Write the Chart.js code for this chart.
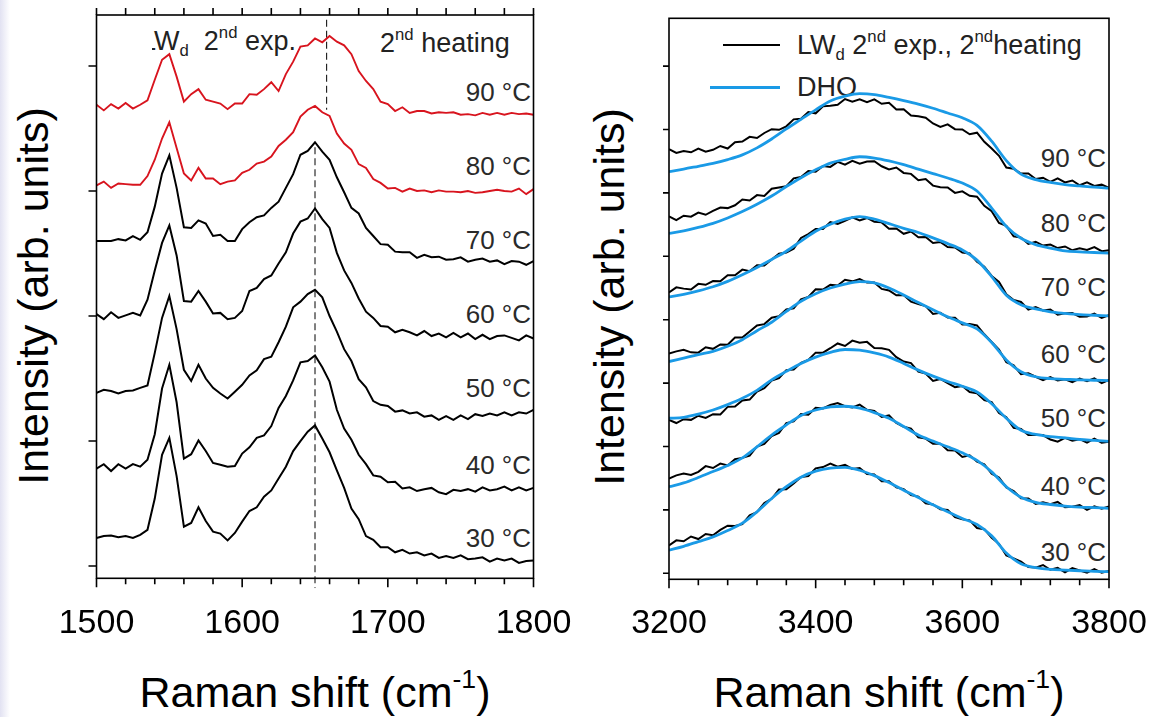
<!DOCTYPE html>
<html>
<head>
<meta charset="utf-8">
<script src="https://cdn.jsdelivr.net/npm/chart.js@4.4.0/dist/chart.umd.min.js"></script>
<style>
  html, body { margin: 0; padding: 0; background: #fff; }
  body { width: 1149px; height: 717px; position: relative; overflow: hidden;
         font-family: "Liberation Sans", Arial, sans-serif; color: #000; }
  .t { position: absolute; white-space: nowrap; line-height: 1; z-index: 0; }
  .lbl { font-size: 26px; color: #2a2a2a; transform: translateX(-100%); }
  sup { font-size: 0.62em; vertical-align: 0.72em; line-height: 0; }
  sub { font-size: 0.62em; vertical-align: -0.35em; line-height: 0; }
  canvas { position: absolute; top: 0; z-index: 2; }
  #left { left: 0; }
  #right { left: 575px; }
  .mask { position: absolute; background: #fff; z-index: 1; }
  .key { position: absolute; z-index: 1; }
  .edge { position: absolute; left: 0; top: 0; width: 10px; height: 717px;
          background: linear-gradient(to right, #e2e2f2, #fff); }
</style>
</head>
<body>
<div class="edge"></div>

<!-- left panel texts -->
<div class="t" style="left:33px;top:296px;font-size:43px;transform:translate(-50%,-50%) rotate(-90deg);">Intensity (arb. units)</div>
<div class="t" style="left:315px;top:671px;font-size:43px;transform:translateX(-50%);">Raman shift (cm<sup>-1</sup>)</div>
<div class="t" style="left:141px;top:28px;font-size:27px;color:#222;">LW<sub>d</sub>&nbsp; 2<sup>nd</sup> exp.</div>
<div class="mask" style="left:103px;top:20px;width:48.5px;height:40px;"></div>
<div class="t" style="left:380px;top:30px;font-size:27px;color:#222;">2<sup>nd</sup> heating</div>
<div class="t lbl" style="left:531px;top:79px;">90 °C</div>
<div class="t lbl" style="left:531px;top:153px;">80 °C</div>
<div class="t lbl" style="left:531px;top:227px;">70 °C</div>
<div class="t lbl" style="left:531px;top:301px;">60 °C</div>
<div class="t lbl" style="left:531px;top:375px;">50 °C</div>
<div class="t lbl" style="left:531px;top:452px;">40 °C</div>
<div class="t lbl" style="left:531px;top:525px;">30 °C</div>

<!-- right panel texts -->
<div class="t" style="left:609px;top:297px;font-size:43px;transform:translate(-50%,-50%) rotate(-90deg);">Intensity (arb. units)</div>
<div class="t" style="left:889px;top:671px;font-size:43px;transform:translateX(-50%);">Raman shift (cm<sup>-1</sup>)</div>
<div class="key" style="left:723px;top:44px;width:57px;height:2px;background:#000;"></div>
<div class="t" style="left:797px;top:32px;font-size:27px;color:#222;">LW<sub>d</sub> 2<sup>nd</sup> exp., 2<sup>nd</sup>heating</div>
<div class="key" style="left:710px;top:85.5px;width:70px;height:3px;background:#1a9ae6;"></div>
<div class="t" style="left:797px;top:74px;font-size:27px;color:#222;">DHO</div>
<div class="t lbl" style="left:1106px;top:145px;">90 °C</div>
<div class="t lbl" style="left:1106px;top:210px;">80 °C</div>
<div class="t lbl" style="left:1106px;top:274px;">70 °C</div>
<div class="t lbl" style="left:1106px;top:341px;">60 °C</div>
<div class="t lbl" style="left:1106px;top:405px;">50 °C</div>
<div class="t lbl" style="left:1106px;top:473px;">40 °C</div>
<div class="t lbl" style="left:1106px;top:539px;">30 °C</div>

<canvas id="left" width="575" height="717"></canvas>
<canvas id="right" width="574" height="717"></canvas>

<script>
// Raman shift grid of the 1500-1800 window (cm-1)
const leftShift = [1500,1505,1510,1515,1520,1525,1530,1535,1540,1545,1550,1555,1560,1565,1570,1575,1580,1585,1590,1595,
  1600,1605,1610,1615,1620,1625,1630,1635,1640,1645,1650,1655,1660,1665,1670,1675,1680,1685,1690,1695,
  1700,1705,1710,1715,1720,1725,1730,1735,1740,1745,1750,1755,1760,1765,1770,1775,1780,1785,1790,1795,1800];

// stacked spectra (arb. units, offsets included)
const left30 = [22.5,24,24.5,23,24,22.5,25,29,54,89,102.5,72,31.5,34.5,47,36,27.5,26,20.5,26.5,35.5,44,47,55.5,60.5,70,79.5,92,100,107.5,
  112.5,102,91,76.5,62.5,46,37.5,24,21,15,15,11,13,10,11,8.5,10,6.5,8,6.5,8.5,5.5,6,7,3.5,6,4.5,6,2.5,4,4.5];
const left40 = [78,81.5,76,81.5,78,81.5,79.5,85,105.5,142,161,131,86,89.5,100.5,92,82.5,81,79.5,80,90,95,102.5,104.5,112,126.5,136,148.5,163,164,
  168.5,159,147.5,125,110,101,89,81.5,72.5,71.5,67,67.5,62,63,60,61.5,62.5,59,57.5,61,60,61.5,59.5,63,60.5,61.5,63.5,60.5,63,60.5,62.5];
const left50 = [138.5,141,140,138,140,140.5,142.5,144.5,170.5,198.5,216,189.5,157,148,161,150,142.5,138,134,139.5,145,152.5,156.5,165.5,167.5,179,191.5,207,211.5,217.5,
  221,215,200,187.5,173.5,164,149.5,143,132,129,128,123.5,124.5,122,123,119.5,120.5,117,120,117,120.5,117.5,121.5,120,122,120.5,123,120.5,123,122,125];
const left60 = [201.5,197.5,203,198.5,200.5,202.5,200.5,213,236.5,258.5,272.5,248.5,212,211.5,220,211.5,202,202.5,197.5,198.5,204,220,222.5,229.5,232.5,242,251,266,275.5,278,
  286,277.5,270.5,250.5,236.5,226.5,214,203.5,198.5,192,191.5,187,189,187,184.5,188,184,186,183,186.5,183,186,181.5,185,181.5,184,184.5,182.5,180.5,184.5,182];
const left70 = [260,260,260,261.5,260.5,264,261,267,287.5,314,328.5,302.5,271,270.5,276.5,274,264,265,260,260,269.5,275,279,280.5,286.5,291.5,302.5,313.5,329,332,
  339,331.5,325,311,299,286.5,282,270.5,264,257.5,257,251.5,251,251,246.5,249,247,247.5,245,245.5,247,243.5,245,246,243.5,244.5,241.5,244,243.5,241,244];
const left80 = [304.5,307.5,302.5,306,305.5,305,305,312,325,342,355,334.5,314,308.5,318.5,310,310,305.5,307.5,308.5,314.5,317,322,323.5,327.5,336,341,347,359.5,365,
  368,363,360,346,338,333,321.5,318.5,309.5,306.5,302,302.5,299.5,302,300,300.5,299,300.5,299.5,299.5,299,300,298.5,299,300,301,300,299.5,302,297.5,301.5];
const left90 = [369,364.5,369.5,366,370.5,366,369,372.5,389,405,409.5,391.5,371.5,377.5,381.5,373,371.5,370,365.5,370,370,377.5,377,381.5,387,380,393.5,403.5,415.5,416.5,
  422,419,424,419.5,416.5,409.5,396,388,381.5,371.5,369.5,364,367,362.5,364,364,362,363,362.5,363,361,361.5,360.5,362.5,361,362.5,361,362.5,361.5,362,361];

// dashed guides: shift, upper end, lower end
const dashShift = [1658, 1650];
const dashFrom = [437, 335];
const dashTo = [365, -17.6];

// Raman shift grid of the 3200-3800 window
const rightShift = [3200,3210,3220,3230,3240,3250,3260,3270,3280,3290,3300,3310,3320,3330,3340,3350,3360,3370,3380,3390,
  3400,3410,3420,3430,3440,3450,3460,3470,3480,3490,3500,3510,3520,3530,3540,3550,3560,3570,3580,3590,
  3600,3610,3620,3630,3640,3650,3660,3670,3680,3690,3700,3710,3720,3730,3740,3750,3760,3770,3780,3790,3800];
const lw30 = [44,52,50.5,58,54,62,60,68.5,75,74.5,77.5,91.5,96.5,111,117.5,132,132.5,141.5,152,153.5,165.5,167.5,173,168,171,164.5,166,156.5,156,145,
  145,135.5,132.5,123.5,121,110.5,108.5,101,100,88.5,85,83.5,71.5,69.5,56,46.5,28,23.5,18.5,10,9,13,5.5,8.5,1.5,8,4.5,1,6.5,1,3.5];
const lw40 = [149.5,154.5,157.5,155,160,169,166,173,170,180,182,185.5,200,204,216.5,221.5,237,239.5,251,250,261,260,265.5,268.5,263.5,261.5,266,258,256,246.5,
  249,237,231,228,214.5,212.5,204.5,204.5,194,193.5,183.5,186,176,172,157,151,135.5,129.5,118.5,118,109.5,112,109,112.5,104,105,107.5,100,105.5,102,105.5];
const lw50 = [242,237,243,242,248.5,245,251,250.5,262.5,263,272.5,274,286.5,292,304,308,320.5,321.5,332,336.5,348,348,355,362.5,358.5,367,363.5,365,355.5,355,
  352.5,341,334,331.5,318,315,303.5,306.5,300,293.5,295.5,286,284,273,270,253,246,229.5,227.5,218,218.5,218,211,207.5,213.5,209,211.5,206,212.5,206,207.5];
const lw60 = [346.5,350,352.5,348.5,348,356.5,354,361,360.5,372,372,381.5,391,393,403,405.5,416,418,432,436,448,447.5,455,454,463,460.5,464,458.5,458.5,448.5,
  446,438.5,439,428.5,424.5,421.5,409,411,403.5,403,392.5,393,391,377,365,353,333,328,314,315.5,310,304.5,309.5,304,306,301.5,307,303,307.5,300,305];
const lw70 = [443,451,449,447.5,456.5,455,461,460.5,470,470,479,476.5,486,485.5,495,504,506,512,529,535,543,543,554,551,556,561.5,556.5,560.5,554.5,553.5,
  543.5,544,535.5,539,530,530.5,521,522.5,514.5,514,506,504.5,491.5,483.5,469,459.5,440,431,428,416,420,414.5,416,408,410,410.5,404.5,405,409.5,403,407];
const lw80 = [563,557,564,562.5,569,565.5,571.5,577,576,580.5,589.5,588,596.5,595,606.5,608.5,610.5,623,625,634.5,633.5,642.5,641,649,644.5,650.5,646,649.5,650,642,
  637,640,631.5,630,620,622,611.5,609,608.5,600,602.5,595.5,594,579.5,571,552.5,548,531.5,529.5,519.5,523,517,518.5,513,515.5,509.5,512.5,510,514.5,508,509.5];
const lw90 = [669,663,666,664,670,665,668,674,670,680,681,688.5,686.5,694.5,700.5,699.5,705,716,717,727.5,725.5,736.5,737.5,739,748,744,747.5,743,747.5,740.5,
  742,731.5,732,722,721,718.5,709.5,704,708,700.5,700,692.5,695,680.5,670,658.5,640,638,630.5,630.5,622,624,617.5,623,616.5,619.5,612,616.5,611,613,608];

// DHO fits
const dhoShift = [3200,3220,3240,3260,3280,3300,3320,3340,3360,3380,3400,3420,3440,3460,3480,3500,
  3520,3540,3560,3580,3600,3620,3640,3660,3680,3700,3720,3740,3760,3780,3800];
const dho30 = [36.5,42.5,50,57.5,67.5,79,97,118,136.5,151.5,161,166,167,162.5,154,143,131,119.5,108,97,86.5,77,59,32,15,9,6,5,4,3,2.5];
const dho40 = [136.5,142.5,151,160.5,170,182,199.5,218,234,249,257.5,262.5,263.5,260.5,253.5,244.5,231.5,218,208.5,199.5,190,178,160,136.5,120,112,108.5,106,104.5,103.5,102.5];
const dho50 = [244.5,246,251,257.5,266,276,288.5,305,318.5,331,341,348.5,353,352,347.5,341,331,320.5,311,302.5,295,286,267.5,244.5,225.5,219,215.5,213.5,211,209.5,208];
const dho60 = [334,339.5,345,350,358,368.5,382.5,396,413,429,441,450,456,460,458,450,439,427,415.5,404.5,395,385.5,364,336.5,318,310,307,306,305,304.5,304];
const dho70 = [436,440,445.5,452,460.5,471,482.5,495,508,524,539.5,550.5,558.5,562.5,558.5,551.5,544,537.5,529,520,510,494,468,438.5,423.5,417,412.5,410,408,407,406];
const dho80 = [536,540,545.5,552,560.5,570.5,582,595,610,624,636.5,647,653,657,655,650.5,644.5,637.5,630.5,623.5,615.5,603,576,547,528.5,518.5,513,508.5,507,506,505];
const dho90 = [633.5,637.5,642,646.5,652.5,660,671,685,701,716,731,745,752.5,756.5,755,750.5,745.5,740,733.5,726,718.5,706.5,681.5,651,629.5,621,616.5,613,611,609,607.5];

// axis ticks
const leftMajor = [1500, 1600, 1700, 1800];
const leftMinor = [1500,1520,1540,1560,1580,1600,1620,1640,1660,1680,1700,1720,1740,1760,1780,1800];
const leftYTicks = [0, 100, 200, 300, 400];
const rightMajor = [3200, 3400, 3600, 3800];
const rightMinor = [3200,3240,3280,3320,3360,3400,3440,3480,3520,3560,3600,3640,3680,3720,3760,3800];
const rightYTicks = [0, 100, 200, 300, 400, 500, 600, 700, 800];

const RED = '#d8141e';
const BLUE = '#1a9ae6';

function line(xs, ys, color, width, extra) {
    return Object.assign({
        data: xs.map((v, i) => ({ x: v, y: ys[i] })),
        borderColor: color,
        borderWidth: width,
        pointRadius: 0,
        fill: false,
        tension: 0
    }, extra || {});
}

// box frame plus tick marks like the original plot
const frameTicks = {
    id: 'frameTicks',
    afterDraw(chart, args, o) {
        const { ctx, chartArea: a, scales: { x, y } } = chart;
        ctx.save();
        ctx.strokeStyle = '#000';
        ctx.lineWidth = 1.6;
        ctx.strokeRect(a.left, a.top, a.right - a.left, a.bottom - a.top);
        ctx.beginPath();
        o.minor.forEach(v => {
            const px = x.getPixelForValue(v);
            const len = o.major.includes(v) ? 9 : 6;
            ctx.moveTo(px, a.bottom);
            ctx.lineTo(px, a.bottom + len);
            if (o.top) {
                ctx.moveTo(px, a.top);
                ctx.lineTo(px, a.top - 7);
            }
        });
        o.yTicks.forEach(v => {
            const py = y.getPixelForValue(v);
            ctx.moveTo(a.left, py);
            ctx.lineTo(a.left - o.yLen, py);
        });
        ctx.stroke();
        ctx.restore();
    }
};

function chartOptions(c) {
    return {
        responsive: false,
        animation: false,
        devicePixelRatio: 1,
        layout: { padding: c.padding },
        plugins: {
            legend: { display: false },
            tooltip: { enabled: false },
            frameTicks: c.frame
        },
        scales: {
            x: {
                type: 'linear', min: c.xMin, max: c.xMax,
                grid: { display: false, drawTicks: false },
                border: { display: false },
                ticks: {
                    stepSize: c.xStep, autoSkip: false, maxRotation: 0, includeBounds: false,
                    padding: c.labelPad, color: '#000',
                    font: { family: '"Liberation Sans", Arial, sans-serif', size: 34 },
                    callback: v => String(v)
                },
                afterFit: s => {
                    s.height = c.xHeight;
                    // labels fit inside the layout padding already
                    s.paddingLeft = 0;
                    s.paddingRight = 0;
                }
            },
            y: { type: 'linear', display: false, min: c.yMin, max: c.yMax }
        }
    };
}

new Chart(document.getElementById('left'), {
    type: 'line',
    data: {
        datasets: [
            ...[left30, left40, left50, left60, left70].map(s => line(leftShift, s, '#000', 2)),
            ...[left80, left90].map(s => line(leftShift, s, RED, 1.9)),
            line([dashShift[0], dashShift[0]], [dashFrom[0], dashTo[0]], '#000', 1, { borderDash: [7, 4] }),
            line([dashShift[1], dashShift[1]], [dashFrom[1], dashTo[1]], '#000', 1, { borderDash: [7, 4], clip: false })
        ]
    },
    options: chartOptions({
        padding: { left: 96.5, right: 41.5, top: 15, bottom: 0 },
        xMin: 1500, xMax: 1800, xStep: 100, labelPad: 25, xHeight: 138.7,
        yMin: -9.8, yMax: 440.8,
        frame: { major: leftMajor, minor: leftMinor, yTicks: leftYTicks, top: true, yLen: 8 }
    }),
    plugins: [frameTicks]
});

new Chart(document.getElementById('right'), {
    type: 'line',
    data: {
        datasets: [
            ...[dho30, dho40, dho50, dho60, dho70, dho80, dho90].map(s =>
                line(dhoShift, s, BLUE, 2.8, { order: 0, cubicInterpolationMode: 'monotone' })),
            ...[lw30, lw40, lw50, lw60, lw70, lw80, lw90].map(s =>
                line(rightShift, s, '#000', 2, { order: 1 }))
        ]
    },
    options: chartOptions({
        padding: { left: 94, right: 40, top: 18.3, bottom: 0 },
        xMin: 3200, xMax: 3800, xStep: 200, labelPad: 24, xHeight: 137.7,
        yMin: -9.5, yMax: 875.4,
        frame: { major: rightMajor, minor: rightMinor, yTicks: rightYTicks, top: false, yLen: 6 }
    }),
    plugins: [frameTicks]
});
</script>
</body>
</html>
